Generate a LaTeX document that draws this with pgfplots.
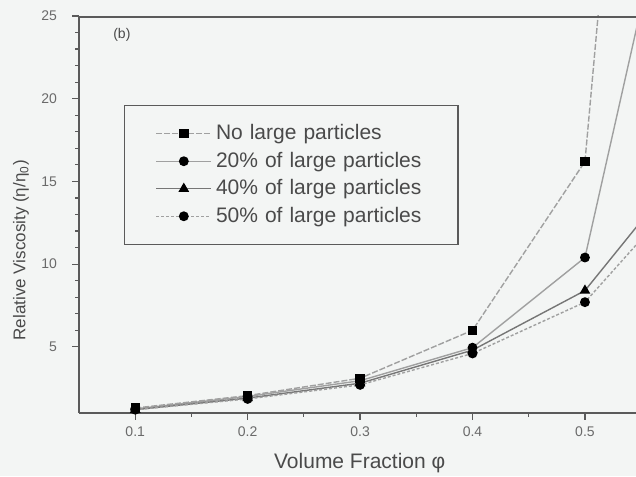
\documentclass[border=0pt]{standalone}
\usepackage{pgfplots}
\pgfplotsset{compat=1.18}
\usepackage{fontspec}
\setmainfont{Liberation Sans}
\definecolor{bgc}{HTML}{F3F5F4}
\definecolor{axc}{HTML}{5A5A5A}
\definecolor{linec}{HTML}{A0A0A0}
\definecolor{linedk}{HTML}{767676}
\definecolor{txt}{HTML}{4A4A4A}
\definecolor{tck}{HTML}{6A6A6A}
\begin{document}
\begin{tikzpicture}[x=1pt,y=1pt]
\useasboundingbox (0,0) rectangle (318,238);
\fill[bgc] (0,0) rectangle (318,238);
\begin{axis}[
  at={(39.5pt,31.5pt)}, anchor=south west,
  scale only axis, width=278.5pt, height=198.5pt,
  xmin=0.05, xmax=0.5454, ymin=1, ymax=25,
  axis x line=bottom, axis y line=left,
  axis line style={axc, line width=0.7pt, -},
  xtick={0.1,0.2,0.3,0.4,0.5}, ytick={5,10,15,20,25},
  minor x tick num=1, minor y tick num=4,
  xtick pos=left, ytick pos=left,
  tick align=outside,
  major tick length=3.5pt, minor tick length=2pt,
  tick style={axc, line width=0.6pt},
  /pgf/number format/assume math mode=true,
  /pgf/number format/fixed,
  xticklabel style={font=\fontsize{7}{8}\selectfont, text=tck},
  yticklabel style={font=\fontsize{7}{8}\selectfont, text=tck, xshift=-4pt},
  xlabel={Volume Fraction φ},
  ylabel={Relative Viscosity (η/η\textsubscript{0})},
  xlabel style={font=\fontsize{10.5}{12}\selectfont, text=txt, at={(axis description cs:0.504,-0.126)}, anchor=center},
  ylabel style={font=\fontsize{8.5}{10}\selectfont, text=txt, at={(axis description cs:-0.104,0.41)}, anchor=center},
  legend style={at={(axis description cs:0.0808,0.7758)}, anchor=north west,
    draw=axc, line width=0.6pt, fill=bgc, font=\fontsize{10.5}{12}\selectfont, text=txt,
    inner xsep=5pt, inner ysep=7.5pt, row sep=0.65pt,
    /tikz/every even column/.append style={text width=114pt, align=left}},
  legend cell align=left,
  legend image code/.code={
    \path (-10.5pt,0pt);
    \draw[mark repeat=2, mark phase=2] plot coordinates {(0pt,0pt) (13.75pt,0pt) (27.5pt,0pt)};
  },
  clip=true,
]
\addplot[linec, line width=0.7pt, dash pattern=on 3pt off 1pt, mark=square*, mark size=2pt, mark options={solid, fill=black, draw=black}]
  coordinates {(0.1,1.3) (0.2,2.05) (0.3,3.1) (0.4,6.0) (0.5,16.2) (0.55,54)};
\addlegendentry{No large particles}
\addplot[linec, line width=0.7pt, mark=*, mark size=2.1pt, mark options={solid, fill=black, draw=black}]
  coordinates {(0.1,1.25) (0.2,2.0) (0.3,2.95) (0.4,4.95) (0.5,10.4) (0.55,25.5)};
\addlegendentry{20\% of large particles}
\addplot[linedk, line width=0.7pt, mark=triangle*, mark size=2.4pt, mark options={solid, fill=black, draw=black}]
  coordinates {(0.1,1.2) (0.2,1.9) (0.3,2.8) (0.4,4.8) (0.5,8.4) (0.55,12.6)};
\addlegendentry{40\% of large particles}
\addplot[linec, line width=0.7pt, dash pattern=on 1.5pt off 1pt, mark=*, mark size=2.1pt, mark options={solid, fill=black, draw=black}]
  coordinates {(0.1,1.2) (0.2,1.85) (0.3,2.7) (0.4,4.6) (0.5,7.7) (0.55,11.5)};
\addlegendentry{50\% of large particles}
\node[font=\fontsize{7}{8}\selectfont, text=txt] at (axis description cs:0.077,0.952) {(b)};
\end{axis}
\draw[axc, line width=0.9pt] (39.5,229.6) -- (318,229.6);
\end{tikzpicture}
\end{document}
